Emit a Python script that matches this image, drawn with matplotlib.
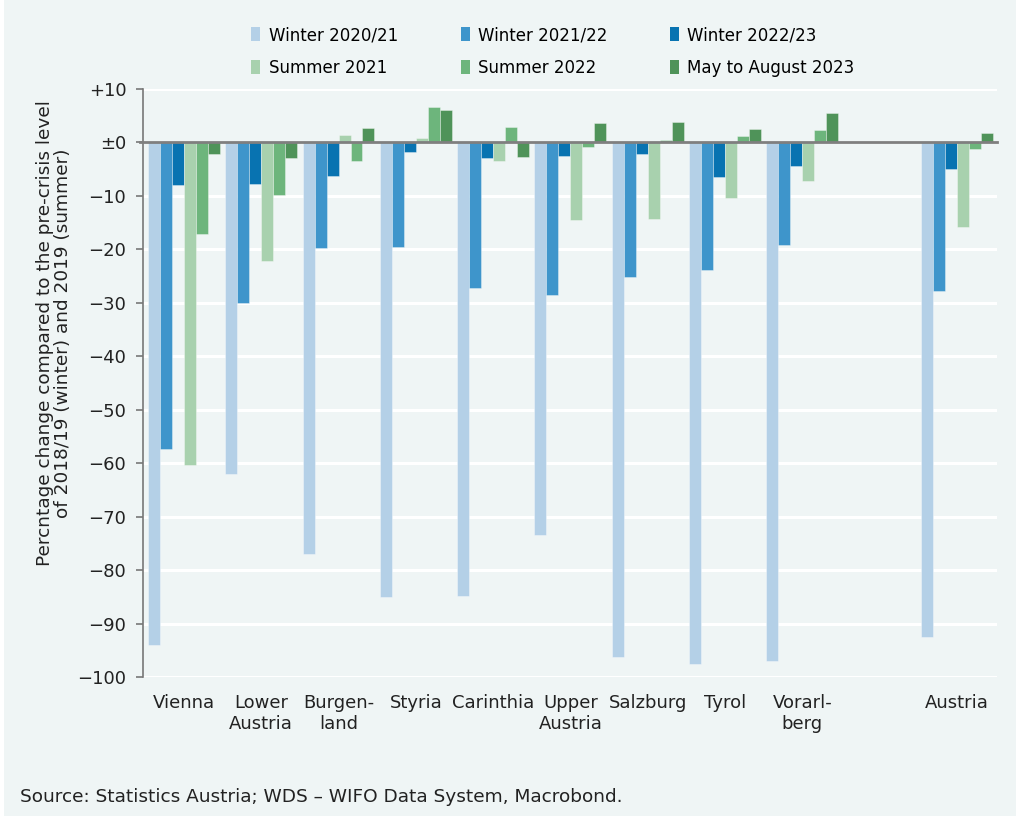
import matplotlib
matplotlib.use("Agg")
import matplotlib.pyplot as plt
import numpy as np
from matplotlib.patches import Rectangle, Patch

plt.rcParams['font.family'] = ['DejaVu Sans']

regions = ["Vienna", "Lower\nAustria", "Burgen-\nland", "Styria", "Carinthia",
           "Upper\nAustria", "Salzburg", "Tyrol", "Vorarl-\nberg", "Austria"]
positions = [0, 1, 2, 3, 4, 5, 6, 7, 8, 10]

series_names = ["Winter 2020/21", "Winter 2021/22", "Winter 2022/23",
                "Summer 2021", "Summer 2022", "May to August 2023"]
winter_2020_21 = [-94.1, -62.0, -76.9, -85.1, -84.8, -73.4, -96.2, -97.6, -97.1, -92.5]
winter_2021_22 = [-57.4, -30.1, -19.8, -19.5, -27.3, -28.5, -25.2, -23.9, -19.2, -27.7]
winter_2022_23 = [-7.9, -7.7, -6.2, -1.7, -2.9, -2.6, -2.2, -6.5, -4.4, -4.9]
summer_2021 = [-60.3, -22.2, 1.4, 0.9, -3.4, -14.5, -14.4, -10.4, -7.2, -15.8]
summer_2022 = [-17.2, -9.9, -3.4, 6.6, 2.9, -0.9, 0.5, 1.2, 2.4, -1.3]
may_aug_2023 = [-2.1, -2.9, 2.7, 6.0, -2.7, 3.7, 3.8, 2.6, 5.6, 1.8]

colors = ["#b4d0e7", "#3e95cb", "#0873b1", "#a8d1ae", "#6db57c", "#4f9359"]
yticks = [10, 0, -10, -20, -30, -40, -50, -60, -70, -80, -90, -100]
ytick_labels = ["+10", "±0", "−10", "−20", "−30", "−40", "−50", "−60",
                "−70", "−80", "−90", "−100"]

bg = "#eff5f5"
W, H = 1016, 816
fig = plt.figure(figsize=(W / 100, H / 100), dpi=100)
fig.patch.set_facecolor("white")
fig.add_artist(Rectangle((4 / W, 0), 1 - 4 / W, 1, transform=fig.transFigure,
                         facecolor=bg, edgecolor="none", zorder=-10))

ax = fig.add_axes([143 / W, 1 - 677 / H, (997 - 143) / W, (677 - 89) / H])
ax.set_facecolor(bg)

data = [winter_2020_21, winter_2021_22, winter_2022_23, summer_2021, summer_2022, may_aug_2023]
bw = 0.155
x = np.array(positions, dtype=float)
for i, (vals, c, name) in enumerate(zip(data, colors, series_names)):
    ax.bar(x + (i - 2.5) * bw, vals, width=bw, color=c,
           edgecolor=(1, 1, 1, 0.35), linewidth=0.7, zorder=3, label=name)

ax.set_ylim(-100, 10)
ax.set_xlim(-0.53, 10.52)
ax.set_yticks(yticks)
ax.set_yticklabels(ytick_labels, fontsize=13, color="#222222")
ax.set_xticks(positions)
ax.set_xticklabels(regions, fontsize=13, color="#222222", linespacing=1.25)
ax.tick_params(axis="x", length=0, pad=12)
ax.tick_params(axis="y", length=5, width=1.2, color="#777777", pad=7, direction="out")
ax.yaxis.grid(True, color="white", linewidth=2.2, zorder=0)
ax.set_axisbelow(True)
for s in ["top", "right", "bottom"]:
    ax.spines[s].set_visible(False)
ax.spines["left"].set_color("#777777")
ax.spines["left"].set_linewidth(1.2)
ax.axhline(0, color="#7f7f7f", linewidth=2, zorder=5, xmin=-0.004, clip_on=False)

fig.text(54 / W, 1 - 333 / H,
         "Percntage change compared to the pre-crisis level\nof 2018/19 (winter) and 2019 (summer)",
         fontsize=13.3, color="#222222", rotation=90, ha="center", va="center",
         multialignment="center", linespacing=1.05)

order = [0, 3, 1, 4, 2, 5]
lh = [Patch(facecolor=colors[k], edgecolor="none") for k in order]
ll = [series_names[k] for k in order]
fig.legend(lh, ll, ncol=3, loc="center", bbox_to_anchor=(553 / W, 1 - 51.5 / H),
           frameon=False, fontsize=12, handlelength=0.55, handleheight=0.9,
           handletextpad=0.5, columnspacing=3.75, labelspacing=0.9)

fig.text(20 / W, 1 - 797 / H, "Source: Statistics Austria; WDS – WIFO Data System, Macrobond.",
         fontsize=13.3, color="#222222", va="center", ha="left")

fig.savefig("out.png", dpi=100, facecolor=fig.get_facecolor())
